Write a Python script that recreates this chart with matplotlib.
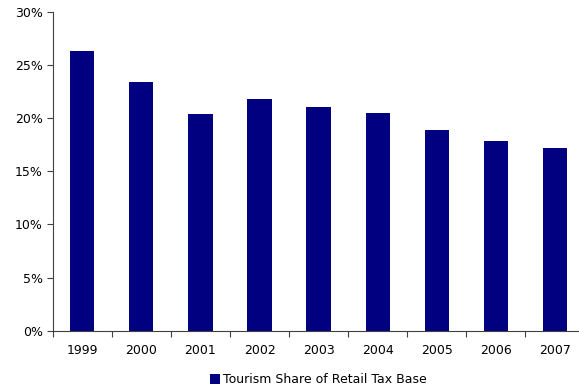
import matplotlib.pyplot as plt
from matplotlib.ticker import PercentFormatter, FixedLocator

years = ['1999', '2000', '2001', '2002', '2003', '2004', '2005', '2006', '2007']
share = [26.3, 23.4, 20.4, 21.8, 21.0, 20.5, 18.9, 17.8, 17.2]

plt.rcParams['font.family'] = ['DejaVu Sans']
plt.rcParams['font.size'] = 9

fig = plt.figure(figsize=(5.79, 3.92), dpi=100)
ax = fig.add_axes([0.091, 0.1564, 0.9185, 0.8138])

x = range(len(years))
ax.bar(x, share, width=0.41, color='#000080', label='Tourism Share of Retail Tax Base')

ax.set_xlim(-0.5, len(years) - 0.5)
ax.set_ylim(0, 30)
ax.yaxis.set_major_locator(FixedLocator([0, 5, 10, 15, 20, 25, 30]))
ax.yaxis.set_major_formatter(PercentFormatter(decimals=0))

# ticks sit on category boundaries, labels under the bars
ax.set_xticks([i - 0.5 for i in range(len(years) + 1)])
ax.set_xticklabels([])
ax.set_xticks(list(x), minor=True)
ax.set_xticklabels(years, minor=True)
ax.tick_params(axis='x', which='major', length=4, width=0.8, color='#404040')
ax.tick_params(axis='x', which='minor', length=0, pad=9.5)
ax.tick_params(axis='y', length=4, width=0.8, color='#404040', pad=3)

for s in ['top', 'right']:
    ax.spines[s].set_visible(False)
for s in ['left', 'bottom']:
    ax.spines[s].set_color('#404040')
    ax.spines[s].set_linewidth(0.8)

fig.legend(loc='center', bbox_to_anchor=(0.55, 0.031), frameon=False,
           handlelength=0.8, handleheight=0.8, handletextpad=0.3)

fig.savefig('out.png', dpi=100)
